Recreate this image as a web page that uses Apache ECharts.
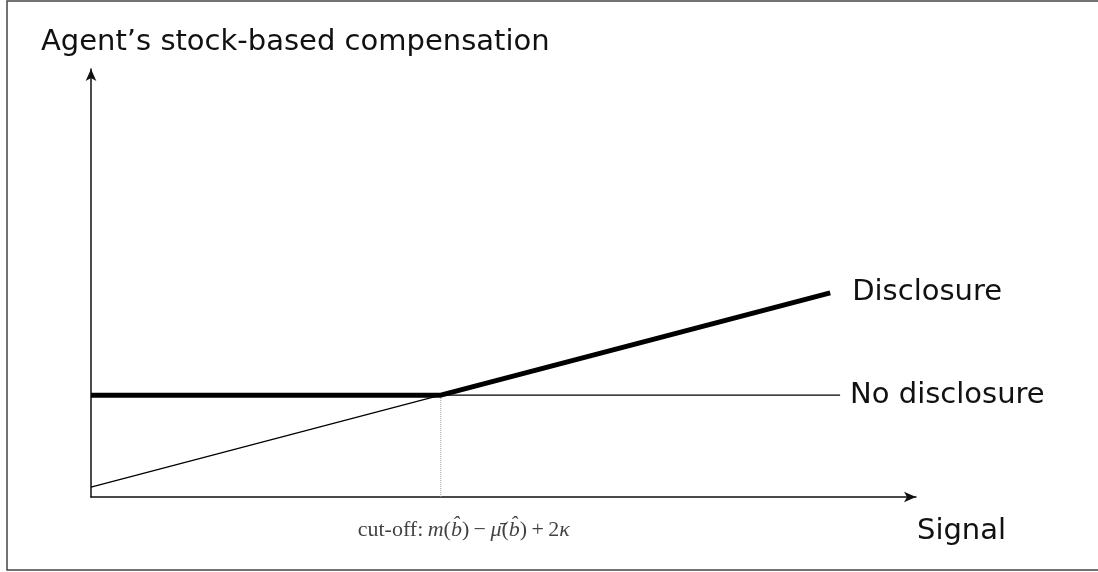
<!DOCTYPE html>
<html>
<head>
<meta charset="utf-8">
<script src="https://cdn.jsdelivr.net/npm/echarts@6/dist/echarts.min.js"></script>
<style>html,body{margin:0;padding:0;background:#fff;}#c{width:1098px;height:572px;}</style>
</head>
<body>
<div id="c"></div>
<script>
// Data (signal on x, compensation on y, in axis units 0..100)
const cutoff = 42.4;
const disclosureSignal = [0, 42.4, 89.6];
const disclosureComp = [23.8, 23.8, 47.7];
const thinSignal = [0, 42.4, 90.8];
const thinComp = [2.3, 23.8, 23.8];
const cutoffComp = [0, 23.8];
const labels = {
  y: 'Agent\u2019s stock-based compensation',
  x: 'Signal',
  disclosure: 'Disclosure',
  noDisclosure: 'No disclosure'
};

const zip = (a, b) => a.map((v, i) => [v, b[i]]);
const sans = 'DejaVu Sans';

const chart = echarts.init(document.getElementById('c'));
chart.setOption({
  animation: false,
  backgroundColor: '#fff',
  grid: { left: 91, right: 182, top: 69, bottom: 75 },
  title: {
    text: labels.y, left: 36, top: 23,
    textStyle: { fontFamily: sans, fontSize: 29, fontWeight: 'normal', color: '#111' }
  },
  xAxis: {
    type: 'value', min: 0, max: 100,
    axisLine: { show: true, onZero: false, symbol: ['none', 'arrow'], symbolSize: [8, 12],
      lineStyle: { color: '#111', width: 1.5 } },
    axisTick: { show: false }, axisLabel: { show: false }, splitLine: { show: false }
  },
  yAxis: {
    type: 'value', min: 0, max: 100,
    axisLine: { show: true, onZero: false, symbol: ['none', 'arrow'], symbolSize: [8, 12],
      lineStyle: { color: '#111', width: 1.5 } },
    axisTick: { show: false }, axisLabel: { show: false }, splitLine: { show: false }
  },
  graphic: [
    { type: 'rect', shape: { x: 7, y: 1, width: 1100, height: 569 },
      style: { fill: 'none', stroke: '#444', lineWidth: 1.5 }, z: 100 },
    { type: 'text', left: 917, top: 517,
      style: { text: labels.x, fontFamily: sans, fontSize: 29, fill: '#111' } }
  ],
  series: [
    {
      type: 'line', data: zip(thinSignal, thinComp), symbol: 'none', z: 2,
      lineStyle: { color: '#000', width: 1.2 },
      endLabel: { show: true, formatter: labels.noDisclosure, distance: 10,
        fontFamily: sans, fontSize: 29, color: '#111' }
    },
    {
      type: 'line', data: zip(disclosureSignal, disclosureComp), symbol: 'none', z: 3,
      lineStyle: { color: '#000', width: 5 },
      endLabel: { show: true, formatter: labels.disclosure, distance: 22,
        fontFamily: sans, fontSize: 29, color: '#111' }
    },
    {
      type: 'line', data: zip([cutoff, cutoff], cutoffComp), symbol: 'none', z: 1,
      lineStyle: { color: '#999', width: 1, type: 'dotted' }
    },
    {
      type: 'scatter', data: [[cutoff, 0]], symbolSize: 0, z: 4,
      label: {
        show: true, position: 'inside', offset: [23, 33],
        formatter: '{n|cut-off:\u2009}{i|m}{n|(}{i|b\u0302}{n|)\u2009\u2212\u2009}{i|\u03BC\u0304}{n|(}{i|b\u0302}{n|)\u2009+\u20092}{i|\u03BA}',
        rich: {
          n: { fontFamily: 'Liberation Serif', fontSize: 22, color: '#111' },
          i: { fontFamily: 'Liberation Serif', fontSize: 22, fontStyle: 'italic', color: '#111' }
        }
      }
    }
  ]
});
</script>
</body>
</html>
